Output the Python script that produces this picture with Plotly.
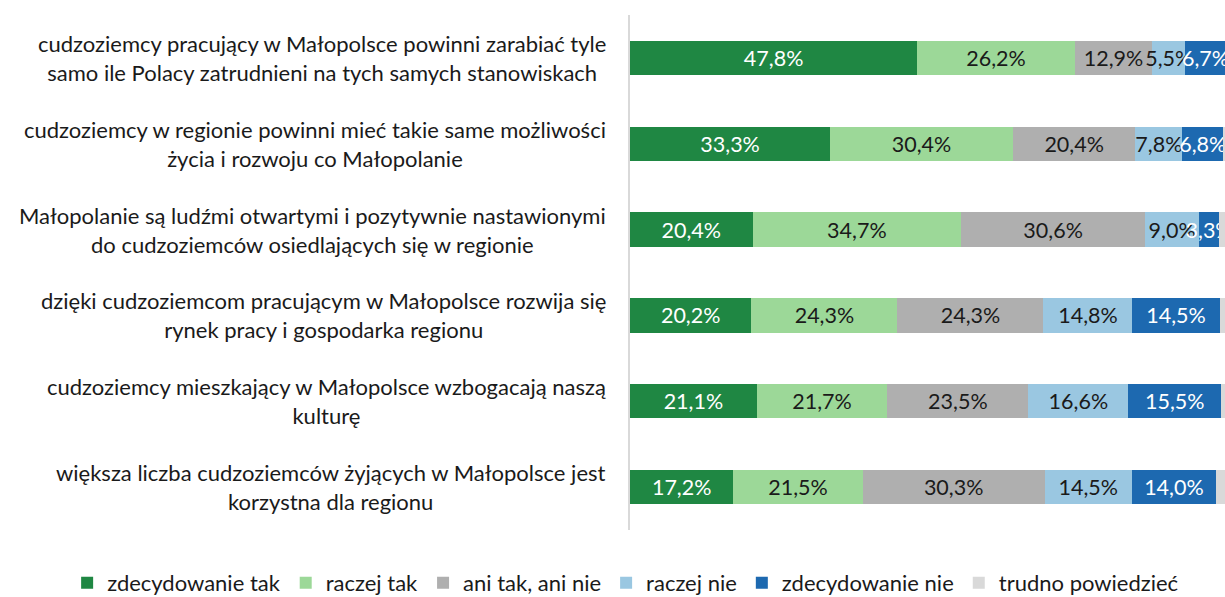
import plotly.graph_objects as go

# Statements (top to bottom) and survey answer shares in percent
statements = [
    "cudzoziemcy pracujący w Małopolsce powinni zarabiać tyle<br>samo ile Polacy zatrudnieni na tych samych stanowiskach",
    "cudzoziemcy w regionie powinni mieć takie same możliwości<br>życia i rozwoju co Małopolanie",
    "Małopolanie są ludźmi otwartymi i pozytywnie nastawionymi<br>do cudzoziemców osiedlających się w regionie",
    "dzięki cudzoziemcom pracującym w Małopolsce rozwija się<br>rynek pracy i gospodarka regionu",
    "cudzoziemcy mieszkający w Małopolsce wzbogacają naszą<br>kulturę",
    "większa liczba cudzoziemców żyjących w Małopolsce jest<br>korzystna dla regionu",
]
row_ids = ["s1", "s2", "s3", "s4", "s5", "s6"]

zdecydowanie_tak = [47.8, 33.3, 20.4, 20.2, 21.1, 17.2]
raczej_tak = [26.2, 30.4, 34.7, 24.3, 21.7, 21.5]
ani_tak_ani_nie = [12.9, 20.4, 30.6, 24.3, 23.5, 30.3]
raczej_nie = [5.5, 7.8, 9.0, 14.8, 16.6, 14.5]
zdecydowanie_nie = [6.7, 6.8, 3.3, 14.5, 15.5, 14.0]
trudno_powiedziec = [0.9, 1.3, 2.0, 1.9, 1.6, 2.5]

# name, values, fill colour, label colour, show value labels
series = [
    ("zdecydowanie tak", zdecydowanie_tak, "#1F8743", "#FFFFFF", True),
    ("raczej tak", raczej_tak, "#9CD898", "#1A1A1A", True),
    ("ani tak, ani nie", ani_tak_ani_nie, "#AFAFAF", "#1A1A1A", True),
    ("raczej nie", raczej_nie, "#9AC7E1", "#1A1A1A", True),
    ("zdecydowanie nie", zdecydowanie_nie, "#1D69B0", "#FFFFFF", True),
    ("trudno powiedzieć", trudno_powiedziec, "#D9D9D9", "#1A1A1A", False),
]

FONT = "Lato"
LABEL_SIZE = 21.5
fig = go.Figure()
for name, vals, color, tcolor, labelled in series:
    texts = [f"{v:.1f}%".replace(".", ",") for v in vals] if labelled else None
    fig.add_trace(go.Bar(
        name=name,
        y=row_ids,
        x=vals,
        orientation="h",
        marker=dict(color=color, line=dict(width=0)),
        text=texts,
        textposition="inside" if labelled else "none",
        insidetextanchor="middle",
        textangle=0,
        textfont=dict(family=FONT, size=LABEL_SIZE, color=tcolor),
        cliponaxis=True,
        hoverinfo="skip",
    ))

# Category labels, right-aligned block with centered lines
for rid, label in zip(row_ids, statements):
    fig.add_annotation(
        x=0, xref="paper", y=rid, yref="y",
        xanchor="right", yanchor="middle", xshift=-22,
        text=label, showarrow=False, align="center",
        font=dict(family=FONT, size=22, color="#1A1A1A"),
    )

fig.update_layout(
    width=1225, height=597,
    margin=dict(l=630, r=0, t=15, b=67, autoexpand=False),
    barmode="stack",
    bargap=0.6,
    plot_bgcolor="white",
    paper_bgcolor="white",
    uniformtext=dict(minsize=LABEL_SIZE, mode="show"),
    showlegend=True,
    legend=dict(
        orientation="h",
        xref="paper", x=-0.946, xanchor="left",
        yref="paper", y=-0.103, yanchor="middle",
        font=dict(family=FONT, size=22, color="#1A1A1A"),
        itemwidth=30,
        traceorder="normal",
    ),
    font=dict(family=FONT),
)
fig.update_xaxes(range=[0, 99.0], showgrid=False, zeroline=False,
                 showticklabels=False, showline=False)
fig.update_yaxes(categoryorder="array", categoryarray=row_ids,
                 autorange="reversed", showticklabels=False,
                 showgrid=False, zeroline=False,
                 showline=True, linecolor="#D9D9D9", linewidth=2)

fig.write_html("out.html")
